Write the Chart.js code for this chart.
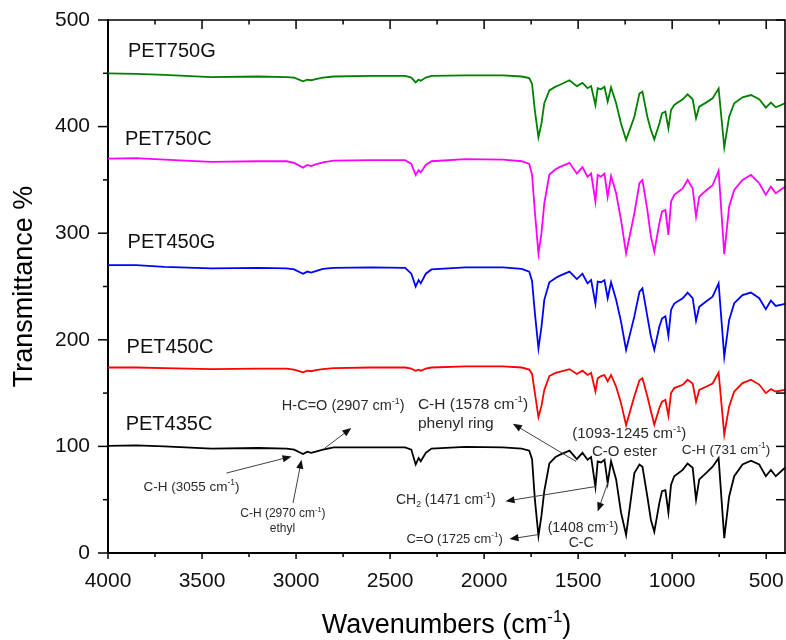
<!DOCTYPE html>
<html><head><meta charset="utf-8">
<script src="https://cdn.jsdelivr.net/npm/chart.js@4.4.1/dist/chart.umd.min.js"></script>
<style>html,body{margin:0;padding:0;background:#fff;} #c{display:block;}</style>
</head><body>
<canvas id="c" width="786" height="640"></canvas>
<script>
const FONT = '"Liberation Sans", Arial, Helvetica, sans-serif';

// ---- data ----
const wavenumbers = [
 4000,3850,3700,3450,3200,3050,3010,2963,2940,2920,
 2895,2857,2800,2600,2420,2387,2364,2348,2337,2310,
 2280,2100,1900,1800,1760,1745,1730,1711,1695,1680,
 1653,1620,1599,1546,1507,1477,1450,1431,1408,1396,
 1378,1360,1343,1325,1298,1272,1245,1201,1174,1158,
 1132,1113,1095,1068,1054,1036,1020,1006,989,944,
 918,891,873,856,820,785,753,723,697,670,
 626,581,537,502,475,449,400];

const pet435c = [
 100.5,101,100,98,98.5,98,97,92.8,95,94,
 95,97,99,99,99,97,83,89,86,94,
 98,99.5,99,98,96,88,50,16,35,58,
 84,90,92,96,88,94,87.5,90,62,86,
 85,87.5,65.6,86,69,38,17,75,83,81,
 53,31,20,47,58,59,38,64,72,78,
 84,80,50,69,75,81,89,14,53,72,
 83,86.5,83,72,78,72,80];

const pet450c = [
 174,174,173.5,172.5,173,173,172,169.5,171,170.5,
 171.5,172.5,173.5,174,174,173,171,172,171,173,
 174,175,175,174,172,168,150,127.5,138,153,
 166,169,170,172.5,168,171,167,169,151.5,164,
 166,167,161,167,156,140.6,120,147,162,164,
 147,133,120.5,136,142,143.7,128.7,150,154.7,157.8,
 162.5,159,142,153,156,159,169.3,111,137.5,151.5,
 159.4,162.5,158,150,153.7,151.5,153];

const pet450g = [
 270,270,268.5,267,267.5,267,266,262,264,263,
 264.5,266.5,267.5,268,267.5,262,250,256,253,262,
 266,268,268,266.5,264,255,225,192,212,237.5,
 254,258,260,264,257,262,253,256,234,254.6,
 254,256,239,254,237.5,217,190.6,222,245,248.4,
 222,203,190.6,212.4,220,222,203.7,228,234,239,
 244.3,239,218,231,236,240.5,253,184,218.7,234.4,
 242,244.3,239,228.7,236.8,231.8,233.7];

const pet750c = [
 370,370.5,369,367,367.5,367.5,366,361.5,364,363,
 364.5,366.5,368,368.5,368.5,365,354.5,359,357,364,
 367.5,369.5,369,367.5,365,355,320,281,300,328,
 355,360,362,366,356,362,353,356,329.6,354.6,
 353,356,334,353.7,337.5,312.5,281,318.7,347,350,
 321.8,296.8,282.7,309.4,320.3,321.8,298.4,329.6,336,342,
 350,342,315.6,334.3,340,345,358.7,280.3,325,340.6,
 350,354.6,346.9,336,343.7,337.5,343.7];

const pet750g = [
 450,449.5,448.5,446.5,447,446.5,446,442.5,444,443.5,
 444.5,446,447,447.5,447.5,446,441.5,444,443,446,
 447.5,448,448,447,445.5,440,415,390,403,422,
 434,437.5,439,443.5,438,441,436,438,420.3,436,
 435,437.4,423.4,436.8,421.9,403,387.5,409.3,431,432.8,
 409.3,396.8,388,403,412.5,414,398.4,415.6,420.3,425.6,
 430.3,425.6,407.8,418.7,422.5,426.5,435.8,380.6,409.3,421.9,
 427.5,429.6,425.6,417.8,422.5,418.1,421.9];

const seriesNames = ['PET435C','PET450C','PET450G','PET750C','PET750G'];
const seriesValues = [pet435c, pet450c, pet450g, pet750c, pet750g];
const seriesColors = ['#000000','#ff0000','#0000ff','#ff00ff','#008000'];
// label anchor (wavenumber, value) for each series name
const labelWn = [3906, 3901, 3896, 3910, 3894];
const labelVal = [122, 194.3, 292.8, 389.8, 471.8];

const xMajorTicks = [4000,3500,3000,2500,2000,1500,1000,500];
const xMinorTicks = [3750,3250,2750,2250,1750,1250,750];
const yMajorTicks = [0,100,200,300,400,500];
const yMinorTicks = [50,150,250,350,450];

// annotations in data units
const notes = [
 {t:'C-H (3055 cm^{-1})', wn:3556, v:63.1, size:13.5, align:'center'},
 {t:'C-H (2970 cm^{-1})', wn:3070, v:37.5, size:12, align:'center'},
 {t:'ethyl', wn:3072, v:23.4, size:12, align:'center'},
 {t:'H-C=O (2907 cm^{-1})', wn:2749, v:139, size:14.5, align:'center'},
 {t:'C-H (1578 cm^{-1})', wn:2352, v:140.6, size:15.5, align:'left'},
 {t:'phenyl ring', wn:2352, v:122.4, size:15.5, align:'left'},
 {t:'(1093-1245 cm^{-1})', wn:1228, v:112.5, size:15, align:'center'},
 {t:'C-O ester', wn:1254, v:95.9, size:15, align:'center'},
 {t:'C-H (731 cm^{-1})', wn:714, v:97.8, size:13.5, align:'center'},
 {t:'CH_{2} (1471 cm^{-1})', wn:2204, v:50.6, size:14, align:'center'},
 {t:'(1408 cm^{-1})', wn:1474, v:24, size:14, align:'center'},
 {t:'C-C', wn:1484, v:9.9, size:14, align:'center'},
 {t:'C=O (1725 cm^{-1})', wn:2157, v:14, size:13, align:'center'}
];
const arrows = [
 {from:[3370,75], to:[3024,90.6]},
 {from:[3016,46.9], to:[2971,87.5]},
 {from:[2847,98.4], to:[2706,117.2]},
 {from:[1511,85.9], to:[1847,121.2]},
 {from:[1405,62.4], to:[1886,48.6]},
 {from:[1343,65.6], to:[1396,39]},
 {from:[1715,17.2], to:[1865,13.1]}
];

// ---- helpers ----
function richParts(s){
  const out=[];
  s.split(/(\^\{[^}]*\}|_\{[^}]*\})/).forEach(p=>{
    if(!p) return;
    if(p.startsWith('^{')) out.push({t:p.slice(2,-1),k:'sup'});
    else if(p.startsWith('_{')) out.push({t:p.slice(2,-1),k:'sub'});
    else out.push({t:p,k:'n'});
  });
  return out;
}
function drawRich(ctx, s, x, y, size, align, color){
  const parts = richParts(s);
  let w=0;
  parts.forEach(p=>{ p.fs = p.k==='n'?size:size*0.62; ctx.font = p.fs+'px '+FONT; p.w=ctx.measureText(p.t).width; w+=p.w; });
  let cx = align==='left'? x : (align==='right'? x-w : x-w/2);
  const base = y + size*0.36;
  ctx.fillStyle=color; ctx.textAlign='left'; ctx.textBaseline='alphabetic';
  parts.forEach(p=>{
    ctx.font=p.fs+'px '+FONT;
    const dy = p.k==='sup'? -size*0.42 : (p.k==='sub'? size*0.2 : 0);
    ctx.fillText(p.t, cx, base+dy); cx+=p.w;
  });
}
function drawArrow(ctx,x1,y1,x2,y2){
  const a=Math.atan2(y2-y1,x2-x1), L=9, W=3.6;
  const c=Math.cos(a), s=Math.sin(a);
  ctx.strokeStyle='#404040'; ctx.lineWidth=1;
  ctx.beginPath(); ctx.moveTo(x1,y1); ctx.lineTo(x2-c*L*0.7,y2-s*L*0.7); ctx.stroke();
  ctx.fillStyle='#111';
  ctx.beginPath(); ctx.moveTo(x2,y2);
  ctx.lineTo(x2-L*c+W*s, y2-L*s-W*c);
  ctx.lineTo(x2-L*c-W*s, y2-L*s+W*c);
  ctx.closePath(); ctx.fill();
}

const deco = {
  id:'deco',
  afterDraw(chart){
    const {ctx, chartArea:ca, scales:{x,y}} = chart;
    ctx.save();
    ctx.strokeStyle='#000'; ctx.lineWidth=1.6;
    ctx.beginPath(); ctx.moveTo(ca.left, ca.top); ctx.lineTo(ca.right, ca.top); ctx.lineTo(ca.right, ca.bottom); ctx.stroke();
    ctx.lineWidth=1.5;
    const line=(a,b,c,d)=>{ctx.beginPath();ctx.moveTo(a,b);ctx.lineTo(c,d);ctx.stroke();};
    xMajorTicks.forEach(v=>{const p=x.getPixelForValue(v); line(p,ca.bottom,p,ca.bottom+6); line(p,ca.top,p,ca.top+9);});
    xMinorTicks.forEach(v=>{const p=x.getPixelForValue(v); line(p,ca.bottom,p,ca.bottom+4); line(p,ca.top,p,ca.top+4.5);});
    yMajorTicks.forEach(v=>{const p=y.getPixelForValue(v); line(ca.left-10,p,ca.left,p); line(ca.right-9,p,ca.right,p);});
    yMinorTicks.forEach(v=>{const p=y.getPixelForValue(v); line(ca.left-5,p,ca.left,p); line(ca.right-9,p,ca.right,p);});
    seriesNames.forEach((n,i)=>{
      drawRich(ctx, n, x.getPixelForValue(labelWn[i]), y.getPixelForValue(labelVal[i]), 20, 'left', '#111');
    });
    arrows.forEach(a=>drawArrow(ctx, x.getPixelForValue(a.from[0]), y.getPixelForValue(a.from[1]), x.getPixelForValue(a.to[0]), y.getPixelForValue(a.to[1])));
    notes.forEach(n=>drawRich(ctx, n.t, x.getPixelForValue(n.wn), y.getPixelForValue(n.v), n.size, n.align, '#2a2a2a'));
    drawRich(ctx, 'Wavenumbers (cm^{-1})', (ca.left+ca.right)/2, 633-27*0.36, 27, 'center', '#000');
    ctx.save();
    ctx.translate(32, (ca.top+ca.bottom)/2);
    ctx.rotate(-Math.PI/2);
    ctx.font='27px '+FONT; ctx.fillStyle='#000'; ctx.textAlign='center'; ctx.textBaseline='alphabetic';
    ctx.fillText('Transmittance %', 0, 0);
    ctx.restore();
    ctx.restore();
  }
};

new Chart(document.getElementById('c').getContext('2d'), {
  type:'line',
  data:{
    datasets: seriesNames.map((n,i)=>({
      label:n,
      data: wavenumbers.map((w,j)=>({x:w, y:seriesValues[i][j]})),
      borderColor: seriesColors[i],
      borderWidth: 1.8,
      pointRadius: 0,
      tension: 0,
      fill: false
    }))
  },
  options:{
    responsive:false, animation:false,
    layout:{padding:{top:20,right:1,left:0,bottom:0}},
    plugins:{legend:{display:false}, tooltip:{enabled:false}},
    scales:{
      x:{
        type:'linear', reverse:true, min:400, max:4000,
        afterBuildTicks: s=>{ s.ticks = xMajorTicks.map(v=>({value:v})); },
        afterFit: s=>{ s.height = 87; s.paddingLeft = 0; s.paddingRight = 0; },
        ticks:{font:{family:FONT,size:21}, color:'#111', padding:10, maxRotation:0, autoSkip:false,
               callback: v => String(v)},
        grid:{display:true, drawOnChartArea:false, drawTicks:true, tickLength:6, tickColor:'rgba(0,0,0,0)'},
        border:{display:true, color:'#000', width:2}
      },
      y:{
        type:'linear', min:0, max:500,
        afterBuildTicks: s=>{ s.ticks = yMajorTicks.map(v=>({value:v})); },
        afterFit: s=>{ s.width = 108; s.paddingTop = 0; s.paddingBottom = 0; },
        ticks:{font:{family:FONT,size:21}, color:'#111', padding:10, callback: v => String(v)},
        grid:{display:true, drawOnChartArea:false, drawTicks:true, tickLength:8, tickColor:'rgba(0,0,0,0)'},
        border:{display:true, color:'#000', width:2}
      }
    }
  },
  plugins:[deco]
});
</script></body></html>
